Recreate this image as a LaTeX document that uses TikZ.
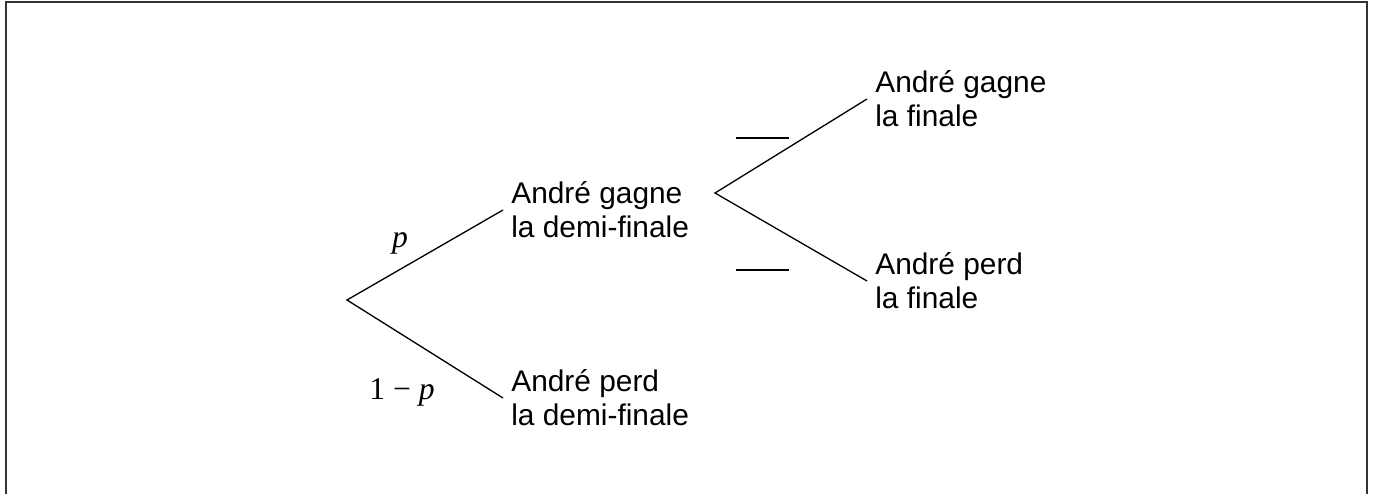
\documentclass[tikz,border=0pt]{standalone}
\usepackage{fontspec}
\setmainfont{Liberation Sans}
\newfontfamily\timesfont{Liberation Serif}
\begin{document}
\begin{tikzpicture}[x=0.02cm,y=-0.02cm,
  event/.style={anchor=west,align=left,inner xsep=0.16cm,font=\fontsize{17}{19.5}\selectfont},
  prob/.style={font=\fontsize{18}{21}\timesfont},
  branch/.style={line width=0.75pt}]
\useasboundingbox (0,0) rectangle (1375,494);
\draw[line width=1.1pt,black!80] (6,494) |- (1367,2) -- (1367,494);

\coordinate (r1) at (347,300);
\coordinate (r2) at (715,193);
\node[event] (gd) at (503,210) {André gagne\\la demi-finale};
\node[event] (pd) at (503,398) {André perd\\la demi-finale};
\node[event] (gf) at (867,99) {André gagne\\la finale};
\node[event] (pf) at (867,281) {André perd\\la finale};
\node[prob] (lp) at (400,243) {\textit{p}};
\node[prob] (lq) at (402,392) {1 − \textit{p}};

\draw[branch] (gd.west) -- (r1) -- (pd.west);
\draw[branch] (gf.west) -- (r2) -- (pf.west);
\draw[branch] (736,138) -- (789,138) (736,270) -- (789,270);
\end{tikzpicture}
\end{document}
